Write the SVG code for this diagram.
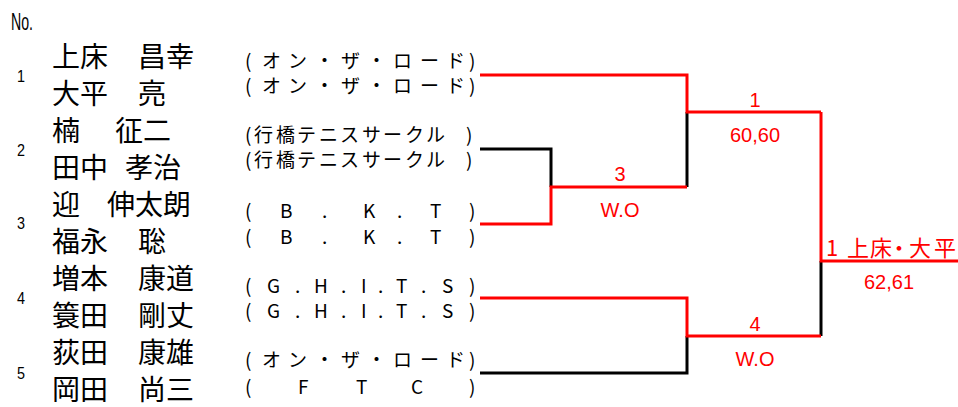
<svg xmlns="http://www.w3.org/2000/svg" width="958" height="407" viewBox="0 0 958 407">
<style>
.nm{font-family:"Noto Sans CJK JP","Noto Sans",sans-serif;font-size:28px;fill:#000}
.cl{font-family:"Noto Sans CJK JP","Noto Sans",sans-serif;font-size:19px;fill:#000}
.no{font-family:"Liberation Sans","DejaVu Sans",sans-serif;font-size:16px;fill:#000}
.rs{font-family:"Liberation Sans","Noto Sans CJK JP",sans-serif;font-size:20px;fill:#ff0000;text-anchor:middle}
.wn{font-family:"Noto Sans CJK JP","Liberation Sans",sans-serif;font-size:22px;fill:#ff0000}
.r{fill:none;stroke:#ff0000;stroke-width:3}
.b{fill:none;stroke:#000;stroke-width:3}
</style>
<rect width="958" height="407" fill="#fff"/>
<text class="no" x="11" y="30" style="font-size:23px" textLength="22" lengthAdjust="spacingAndGlyphs">No.</text>
<g id="connectors">
<path class="b" d="M687,112 V187"/>
<path class="b" d="M480,149 H551 V187"/>
<path class="b" d="M821,261 V336"/>
<path class="b" d="M480,373 H687 V336"/>
<path class="r" d="M480,75 H687 V112 H821"/>
<path class="r" d="M480,224 H551 V187 H687"/>
<path class="r" d="M821,112 V261 H958"/>
<path class="r" d="M480,298 H687 V336 H821"/>
</g>
<g id="entry1">
<text class="no" x="17" y="82" textLength="8" lengthAdjust="spacingAndGlyphs">1</text>
<text class="nm" x="52" y="67">上床</text><text class="nm" x="138" y="67">昌幸</text>
<text class="nm" x="52" y="104">大平</text><text class="nm" x="138" y="104">亮</text>
<text class="cl" x="245 262 288 315 341 367 393 420 446 469" y="68">(オン・ザ・ロード)</text>
<text class="cl" x="245 262 288 315 341 367 393 420 446 469" y="93">(オン・ザ・ロード)</text>
</g>
<g id="entry2">
<text class="no" x="17" y="156" textLength="8" lengthAdjust="spacingAndGlyphs">2</text>
<text class="nm" x="52" y="141">楠</text><text class="nm" x="115" y="141">征二</text>
<text class="nm" x="52" y="178">田中</text><text class="nm" x="125" y="178">孝治</text>
<text class="cl" x="245 254 276 297 319 340 362 383 405 426 466" y="142">(行橋テニスサークル)</text>
<text class="cl" x="245 254 276 297 319 340 362 383 405 426 466" y="167">(行橋テニスサークル)</text>
</g>
<g id="entry3">
<text class="no" x="17" y="229" textLength="8" lengthAdjust="spacingAndGlyphs">3</text>
<text class="nm" x="52" y="215">迎</text><text class="nm" x="107" y="215">伸太朗</text>
<text class="nm" x="52" y="252">福永</text><text class="nm" x="138" y="252">聡</text>
<text class="cl" x="245 280 322 363 397 430 469" y="218">(B.K.T)</text>
<text class="cl" x="245 280 322 363 397 430 469" y="244">(B.K.T)</text>
</g>
<g id="entry4">
<text class="no" x="17" y="304" textLength="8" lengthAdjust="spacingAndGlyphs">4</text>
<text class="nm" x="52" y="289">増本</text><text class="nm" x="138" y="289">康道</text>
<text class="nm" x="52" y="326">簑田</text><text class="nm" x="138" y="326">剛丈</text>
<text class="cl" x="245 267 295 314 341 361 378 396 421 442 469" y="293">(G.H.I.T.S)</text>
<text class="cl" x="245 267 295 314 341 361 378 396 421 442 469" y="318">(G.H.I.T.S)</text>
</g>
<g id="entry5">
<text class="no" x="17" y="379" textLength="8" lengthAdjust="spacingAndGlyphs">5</text>
<text class="nm" x="52" y="363">荻田</text><text class="nm" x="138" y="363">康雄</text>
<text class="nm" x="52" y="400">岡田</text><text class="nm" x="138" y="400">尚三</text>
<text class="cl" x="245 262 288 315 341 367 393 420 446 469" y="367">(オン・ザ・ロード)</text>
<text class="cl" x="245 298 356 411 469" y="394">(FTC)</text>
</g>
<g id="match3">
<text class="rs" x="620" y="181">3</text>
<text class="rs" x="620" y="217">W.O</text>
</g>
<g id="match1">
<text class="rs" x="755" y="107">1</text>
<text class="rs" x="755" y="142">60,60</text>
</g>
<g id="match4">
<text class="rs" x="755" y="331">4</text>
<text class="rs" x="755" y="366">W.O</text>
</g>
<g id="final">
<text class="wn" x="826 847 870 888 909 934" y="256">1上床・大平</text>
<text class="rs" x="889" y="289">62,61</text>
</g>
</svg>
